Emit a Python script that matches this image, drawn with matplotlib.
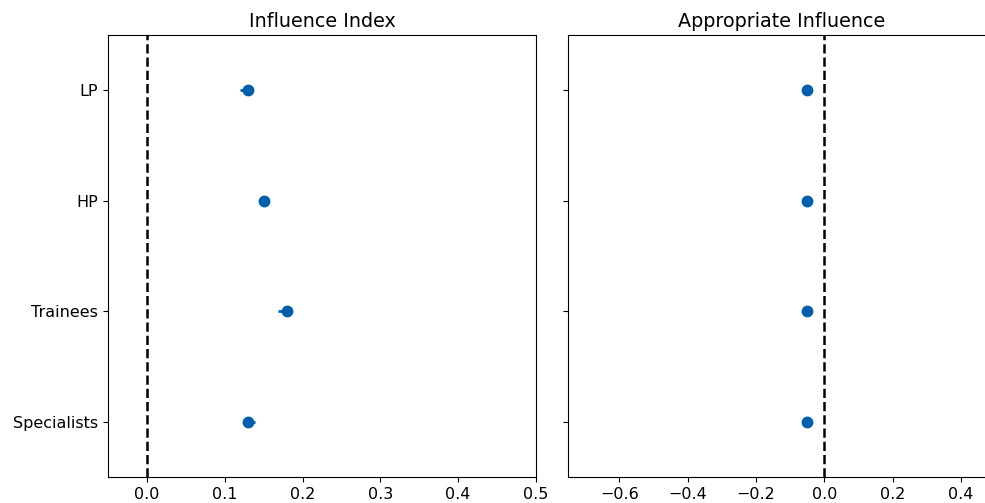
import matplotlib
matplotlib.use('Agg')
import numpy as np
import matplotlib.pyplot as plt

groups = ['LP', 'HP', 'Trainees', 'Specialists']
influence = [0.130, 0.150, 0.180, 0.130]
influence_lo = [0.120, 0.145, 0.169, 0.124]
influence_hi = [0.136, 0.155, 0.186, 0.139]
appropriate = [-0.05, -0.05, -0.05, -0.05]
appropriate_lo = [-0.053, -0.053, -0.053, -0.053]
appropriate_hi = [-0.047, -0.047, -0.047, -0.047]

color = '#005fac'
ypos = np.arange(len(groups))[::-1]

fig = plt.figure(figsize=(9.85, 5.03), dpi=100)
ax1 = fig.add_axes([108/985, 26/503, 428/985, 442/503])
ax2 = fig.add_axes([568/985, 26/503, 427/985, 442/503], sharey=ax1)

def draw(ax, vals, lo, hi, title, xlim, ticks):
    vals = np.array(vals)
    err = [vals - np.array(lo), np.array(hi) - vals]
    ax.errorbar(vals, ypos, xerr=err, fmt='o', color=color, ms=7.5,
                elinewidth=2, capsize=0)
    ax.axvline(0, color='black', linestyle='--', linewidth=1.8)
    ax.set_title(title, fontsize=13.8)
    ax.set_xlim(*xlim)
    ax.set_xticks(ticks)
    ax.tick_params(labelsize=11.5)

draw(ax1, influence, influence_lo, influence_hi, 'Influence Index',
     (-0.05, 0.5), [0.0, 0.1, 0.2, 0.3, 0.4, 0.5])
draw(ax2, appropriate, appropriate_lo, appropriate_hi, 'Appropriate Influence',
     (-0.75, 0.5), [-0.6, -0.4, -0.2, 0.0, 0.2, 0.4])

ax1.set_ylim(-0.5, 3.5)
ax1.set_yticks(ypos)
ax1.set_yticklabels(groups)
plt.setp(ax2.get_yticklabels(), visible=False)

fig.savefig('out.png', dpi=100)
